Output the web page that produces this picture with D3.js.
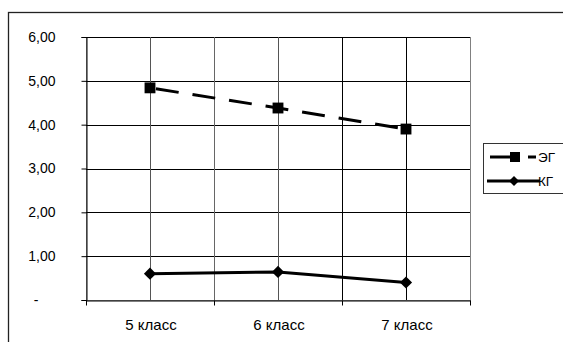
<!DOCTYPE html>
<html>
<head>
<meta charset="utf-8">
<script src="https://cdn.jsdelivr.net/npm/d3@7"></script>
<style>
  html, body { margin: 0; padding: 0; background: #fff; }
  svg { display: block; }
  text { font-family: "Liberation Sans", Arial, sans-serif; fill: #000; }
</style>
</head>
<body>
<svg id="chart" width="563" height="342"></svg>
<script>
// Данные
const categories = ["5 класс", "6 класс", "7 класс"];
const seriesNames = ["ЭГ", "КГ"];
const egValues = [4.84, 4.38, 3.90];
const kgValues = [0.60, 0.64, 0.40];
const yTicks = [0, 1, 2, 3, 4, 5, 6];

const svg = d3.select("#chart");
const W = 563, H = 342;
const plot = { left: 86, right: 470, top: 37, bottom: 300 };

const x = d3.scaleBand().domain(categories).range([plot.left, plot.right]).padding(0);
const y = d3.scaleLinear().domain([0, 6]).range([plot.bottom, plot.top]);
const cx = d => x(d) + x.bandwidth() / 2;
const fmt = v => v === 0 ? "-" : d3.format(".2f")(v).replace(".", ",");

// Внешняя рамка
svg.append("rect")
  .attr("x", 8.5).attr("y", 12.5)
  .attr("width", W).attr("height", H)
  .attr("fill", "none").attr("stroke", "#222").attr("stroke-width", 1.3);

// Рамка области построения
svg.append("rect")
  .attr("x", plot.left + 0.5).attr("y", plot.top + 0.5)
  .attr("width", plot.right - plot.left).attr("height", plot.bottom - plot.top)
  .attr("fill", "none").attr("stroke", "#808080").attr("stroke-width", 1);

// Горизонтальные линии сетки
const grid = svg.append("g");
grid.selectAll(".hg").data(yTicks.slice(1)).join("line")
  .attr("x1", plot.left).attr("x2", plot.right)
  .attr("y1", d => Math.round(y(d)) + 0.5).attr("y2", d => Math.round(y(d)) + 0.5)
  .attr("stroke", "#000").attr("stroke-width", 1);

// Вертикальные линии сетки: по центрам и по границам категорий
const vLines = [];
categories.forEach((c, i) => {
  vLines.push({ pos: cx(c), col: i === 2 ? "#000" : "#555" });
  if (i > 0) vLines.push({ pos: x(c), col: i === 2 ? "#000" : "#666" });
});
grid.selectAll(".vg").data(vLines).join("line")
  .attr("x1", d => Math.round(d.pos) + 0.5).attr("x2", d => Math.round(d.pos) + 0.5)
  .attr("y1", plot.top).attr("y2", plot.bottom)
  .attr("stroke", d => d.col).attr("stroke-width", 1);

// Ось Y
const yAxis = svg.append("g")
  .attr("transform", `translate(${plot.left + 0.5},0)`)
  .call(d3.axisLeft(y).tickValues(yTicks).tickFormat(fmt).tickSize(5).tickPadding(26));
yAxis.select(".domain").attr("stroke", "#000");
yAxis.selectAll(".tick line").attr("stroke", "#000");
yAxis.selectAll(".tick text")
  .attr("font-family", "Liberation Sans, Arial, sans-serif")
  .attr("font-size", 14)
  .attr("fill", "#000")
  .attr("dx", d => d === 0 ? -17 : 0);

// Ось X
const xAxis = svg.append("g")
  .attr("transform", `translate(0,${plot.bottom + 0.5})`)
  .call(d3.axisBottom(x).tickSize(0).tickPadding(0).tickFormat(""));
xAxis.select(".domain").attr("stroke", "#000");
const xBounds = categories.map(c => x(c)).concat([plot.right]);
xAxis.selectAll(".bt").data(xBounds).join("line")
  .attr("x1", d => Math.round(d) + 0.5).attr("x2", d => Math.round(d) + 0.5)
  .attr("y1", 0).attr("y2", 5).attr("stroke", "#000");
xAxis.selectAll(".lbl").data(categories).join("text")
  .attr("x", d => cx(d) + 1).attr("y", 29.5)
  .attr("text-anchor", "middle")
  .attr("font-size", 15)
  .text(d => d);

// Линии рядов
const line = d3.line().x((d, i) => cx(categories[i])).y(d => y(d));

svg.append("path").datum(egValues)
  .attr("d", line).attr("fill", "none")
  .attr("stroke", "#000").attr("stroke-width", 3)
  .attr("stroke-dasharray", "23,14").attr("stroke-dashoffset", -6);

svg.append("path").datum(kgValues)
  .attr("d", line).attr("fill", "none")
  .attr("stroke", "#000").attr("stroke-width", 3);

// Маркеры
const square = d3.symbol().type(d3.symbolSquare).size(118);
const diamond = d3.symbol().type(d3.symbolSquare).size(74);

svg.selectAll(".eg").data(egValues).join("path")
  .attr("d", square)
  .attr("transform", (d, i) => `translate(${cx(categories[i])},${y(d)})`)
  .attr("fill", "#000");

svg.selectAll(".kg").data(kgValues).join("path")
  .attr("d", diamond)
  .attr("transform", (d, i) => `translate(${cx(categories[i])},${y(d)}) rotate(45)`)
  .attr("fill", "#000");

// Легенда
const lg = svg.append("g");
lg.append("rect")
  .attr("x", 483.5).attr("y", 143.5).attr("width", 100).attr("height", 50)
  .attr("fill", "#fff").attr("stroke", "#333").attr("stroke-width", 1);

const legendRows = [
  { name: seriesNames[0], y: 157, dashed: true },
  { name: seriesNames[1], y: 181, dashed: false }
];
legendRows.forEach(r => {
  if (r.dashed) {
    lg.append("line").attr("x1", 490).attr("x2", 512).attr("y1", r.y).attr("y2", r.y)
      .attr("stroke", "#000").attr("stroke-width", 3);
    lg.append("line").attr("x1", 528).attr("x2", 536).attr("y1", r.y).attr("y2", r.y)
      .attr("stroke", "#000").attr("stroke-width", 3);
    lg.append("path").attr("d", d3.symbol().type(d3.symbolSquare).size(100))
      .attr("transform", `translate(515,${r.y})`).attr("fill", "#000");
  } else {
    lg.append("line").attr("x1", 487).attr("x2", 540).attr("y1", r.y).attr("y2", r.y)
      .attr("stroke", "#000").attr("stroke-width", 3);
    lg.append("path").attr("d", d3.symbol().type(d3.symbolSquare).size(50))
      .attr("transform", `translate(514,${r.y}) rotate(45)`).attr("fill", "#000");
  }
  lg.append("text").attr("x", 538).attr("y", r.y + 5)
    .attr("font-size", 13.5).text(r.name);
});
</script>
</body>
</html>
